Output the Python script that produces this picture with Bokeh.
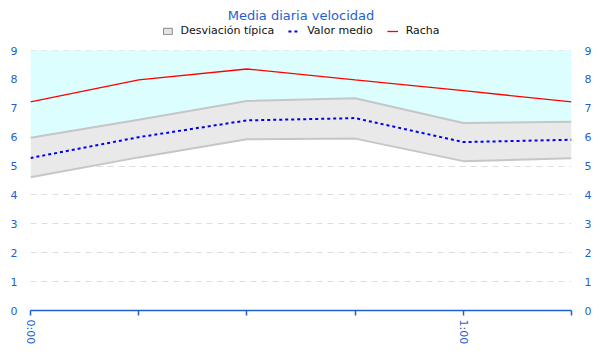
import math
from bokeh.plotting import figure
from bokeh.models import (Range1d, LinearAxis, FixedTicker, Legend, LegendItem, ColumnDataSource)
from bokeh.embed import file_html
from bokeh.resources import INLINE

# Data (minutes since 0:00)
minutes = [0, 15, 30, 45, 60, 75]
mean_speed = [5.28, 6.0, 6.58, 6.66, 5.83, 5.91]
std_upper = [5.98, 6.6, 7.25, 7.35, 6.49, 6.53]
std_lower = [4.61, 5.3, 5.93, 5.95, 5.17, 5.27]
gust = [7.22, 7.98, 8.36, 7.98, 7.61, 7.22]
y_ticks = [0, 1, 2, 3, 4, 5, 6, 7, 8, 9]
x_ticks = [0, 15, 30, 45, 60, 75]
x_labels = {0: "0:00", 15: "", 30: "", 45: "", 60: "1:00", 75: ""}

BLUE = "#1f5fd0"
top_val = 9
# extra headroom above 9 holds the legend row (frame top at ~24px, 9 at ~50px)
y_end = top_val * 286 / 260

src = ColumnDataSource(dict(x=minutes, mean=mean_speed, up=std_upper, lo=std_lower,
                            gust=gust, top=[top_val] * len(minutes)))

p = figure(width=600, height=360, output_backend="svg", toolbar_location=None,
           x_range=Range1d(0, 75), y_range=Range1d(0, y_end),
           min_border_left=30, min_border_right=29, min_border_top=24, min_border_bottom=50,
           background_fill_color="white", border_fill_color="white", outline_line_color=None)

p.title.text = "Media diaria velocidad"
p.title.align = "center"
p.title.vertical_align = "middle"
p.title.text_color = BLUE
p.title.text_font = "DejaVu Sans"
p.title.text_font_size = "13px"
p.title.text_font_style = "normal"
p.title.standoff = 2

# areas
p.varea(x="x", y1="up", y2="top", source=src, fill_color="#dcfefe")
p.varea(x="x", y1="lo", y2="up", source=src, fill_color="#e9e9e9")
p.line(x="x", y="up", source=src, line_color="#c6c6c6", line_width=2)
p.line(x="x", y="lo", source=src, line_color="#c6c6c6", line_width=2)
r_mean = p.line(x="x", y="mean", source=src, line_color="#0000ee", line_width=2, line_dash="3 3")
r_gust = p.line(x="x", y="gust", source=src, line_color="#ff0000", line_width=1.3)
nan = float("nan")
r_sq = p.quad(left=[nan], right=[nan], bottom=[nan], top=[nan],
              fill_color="#e4e4e4", line_color="#888888", line_width=1)

# grid
p.xgrid.visible = False
p.ygrid.ticker = FixedTicker(ticks=y_ticks)
p.ygrid.grid_line_color = "#dddddd"
p.ygrid.grid_line_dash = "6 5"
p.ygrid.grid_line_width = 1

# axes
p.yaxis.ticker = FixedTicker(ticks=y_ticks)
for ax in [p.yaxis[0]]:
    ax.axis_line_color = None
    ax.major_tick_line_color = None
    ax.minor_tick_line_color = None
    ax.major_label_text_color = BLUE
    ax.major_label_text_font = "DejaVu Sans"
    ax.major_label_text_font_size = "11px"
    ax.major_label_standoff = 7

ra = LinearAxis(ticker=FixedTicker(ticks=y_ticks), axis_line_color=None,
                major_tick_line_color=None, minor_tick_line_color=None,
                major_label_text_color=BLUE, major_label_text_font="DejaVu Sans",
                major_label_text_font_size="11px", major_label_standoff=7)
p.add_layout(ra, "right")

xa = p.xaxis[0]
xa.ticker = FixedTicker(ticks=x_ticks)
xa.major_label_overrides = x_labels
xa.major_label_orientation = -math.pi / 2
xa.axis_line_color = BLUE
xa.axis_line_width = 1.5
xa.major_tick_line_color = BLUE
xa.major_tick_line_width = 1.5
xa.major_tick_out = 5
xa.major_tick_in = 0
xa.minor_tick_line_color = None
xa.major_label_text_color = BLUE
xa.major_label_text_font = "DejaVu Sans"
xa.major_label_text_font_size = "11px"
xa.major_label_standoff = 4

legend = Legend(items=[LegendItem(label="Desviación típica", renderers=[r_sq]),
                       LegendItem(label="Valor medio", renderers=[r_mean]),
                       LegendItem(label="Racha", renderers=[r_gust])],
                orientation="horizontal", location="top_center",
                label_text_font="DejaVu Sans", label_text_font_size="11px",
                label_text_color="#111111", border_line_color=None,
                background_fill_alpha=0, glyph_width=11, glyph_height=8,
                spacing=14, padding=2, margin=0, label_standoff=8,
                label_height=12)
p.add_layout(legend, "center")

open("out.html", "w").write(file_html(p, INLINE))
